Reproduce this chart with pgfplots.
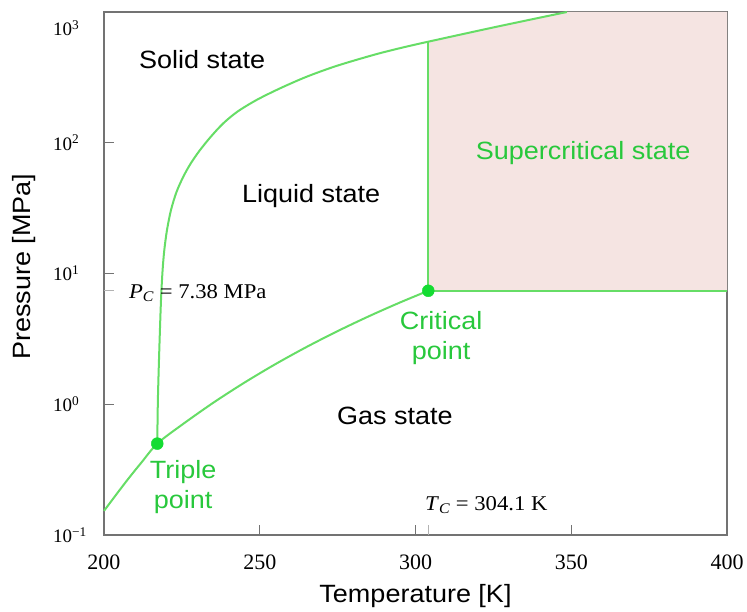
\documentclass[border=0pt]{standalone}
\usepackage{fontspec}
\setmainfont{Liberation Serif}
\newfontfamily\lab[FakeStretch=1.08]{Liberation Sans}
\newfontfamily\ser[FakeStretch=1.08]{Liberation Serif}
\usepackage{pgfplots}
\pgfplotsset{compat=1.18}
\definecolor{lg}{RGB}{102,221,102}
\definecolor{dg}{RGB}{20,220,50}
\definecolor{tg}{RGB}{40,200,60}
\definecolor{pf}{RGB}{245,228,226}
\definecolor{ax}{RGB}{115,115,115}
\begin{document}
\begin{tikzpicture}
\begin{semilogyaxis}[
  at={(0,0)}, anchor=south west,
  scale only axis, width=623pt, height=523pt,
  xmin=200, xmax=400, ymin=0.1, ymax=1000,
  xtick={200,250,300,350,400},
  xticklabels={200,250,300,350,400},
  ytick={0.1,1,10,100,1000},
  yticklabels={10\textsuperscript{−1},10\textsuperscript{0},10\textsuperscript{1},10\textsuperscript{2},\raisebox{-24pt}[0pt][0pt]{10\textsuperscript{3}}},
  yminorticks=false,
  xtick pos=bottom, ytick pos=left,
  tick align=inside,
  major tick length=10pt,
  tick style={ax, line width=1pt},
  axis line style={ax, line width=1.3pt},
  xticklabel style={font=\fontsize{22}{24}\selectfont, yshift=-16pt},
  yticklabel style={font=\fontsize{19}{22}\selectfont, anchor=west, inner sep=0pt, xshift=-51pt},
  extra x ticks={304.1}, extra x tick labels={},
  extra x tick style={tick style={gray!60, line width=1pt}},
  extra y ticks={7.38}, extra y tick labels={},
  extra y tick style={tick style={gray!60, line width=1pt}},
  xlabel={\lab Temperature [K]},
  ylabel={\lab Pressure [MPa]},
  xlabel style={font=\fontsize{25}{30}\selectfont, at={(axis description cs:0.5,-0.117)}, anchor=center},
  ylabel style={font=\fontsize{25}{30}\selectfont, at={(axis description cs:-0.128,0.513)}, anchor=center},
  clip=false,
]
% supercritical region
\addplot[fill=pf, draw=none] coordinates {
  (304.1,7.38) (400,7.38) (400,1000) (348.6,1000) (326.1,772) (304.1,593)
} -- cycle;
% sublimation + vaporization curve
\addplot[lg, line width=2pt, smooth] coordinates {
  (200,0.153) (204,0.205) (208,0.273) (212,0.358) (217.1,0.50)
  (225,0.696) (235,1.024) (245,1.460) (255,2.025) (265,2.740)
  (275,3.626) (285,4.706) (295,6.00) (304.1,7.38)
};
% melting curve
\addplot[lg, line width=2pt, smooth] coordinates {
  (217.1,0.50) (217.3,1.078) (217.75,2.60) (218.3,6.27) (218.81,10.6)
  (219.36,15.1) (220.22,21.5) (221.51,30.6) (223.27,42.0) (225.46,55.0)
  (227.80,69.2) (230.66,86.9) (234.29,111.2) (238.31,140.9) (242.83,172.9)
  (248.96,212.3) (256.50,260.6) (265.07,320.0) (274.70,387.3) (286.45,469)
  (294.77,527.2) (304.1,593) (326.1,772) (348.6,1000)
};
% critical isotherm and isobar
\addplot[lg, line width=2pt] coordinates {(304.1,7.38) (304.1,593)};
\addplot[lg, line width=2pt] coordinates {(304.1,7.38) (400,7.38)};
% triple and critical points
\addplot[only marks, mark=*, mark size=6pt, mark options={fill=dg, draw=dg}] coordinates {
  (217.1,0.50) (304.1,7.38)
};
% texts
\node[font=\lab\fontsize{25}{30}\selectfont] at (axis cs:231.5,430) {Solid state};
\node[font=\lab\fontsize{25}{30}\selectfont] at (axis cs:266.5,39.2) {Liquid state};
\node[font=\lab\fontsize{25}{30}\selectfont, text=tg] at (axis cs:353.8,83.5) {Supercritical state};
\node[font=\lab\fontsize{25}{30}\selectfont, text=tg, align=center] at (axis cs:308.2,3.21) {Critical\\point};
\node[font=\lab\fontsize{25}{30}\selectfont] at (axis cs:293.4,0.813) {Gas state};
\node[font=\lab\fontsize{25}{30}\selectfont, text=tg, align=center] at (axis cs:225.4,0.233) {Triple\\point};
\node[anchor=west, inner sep=0pt, font=\ser\fontsize{21}{24}\selectfont] at (axis cs:208.0,7.1) {\textit{P}\textsubscript{\textit{C}} = 7.38 MPa};
\node[anchor=west, inner sep=0pt, font=\ser\fontsize{21}{24}\selectfont] at (axis cs:303.0,0.169) {\textit{T}\textsubscript{\textit{C}} = 304.1 K};
\end{semilogyaxis}
\pgfresetboundingbox
\path[use as bounding box] (-104pt,-76pt) rectangle (643pt,535pt);
\end{tikzpicture}
\end{document}
